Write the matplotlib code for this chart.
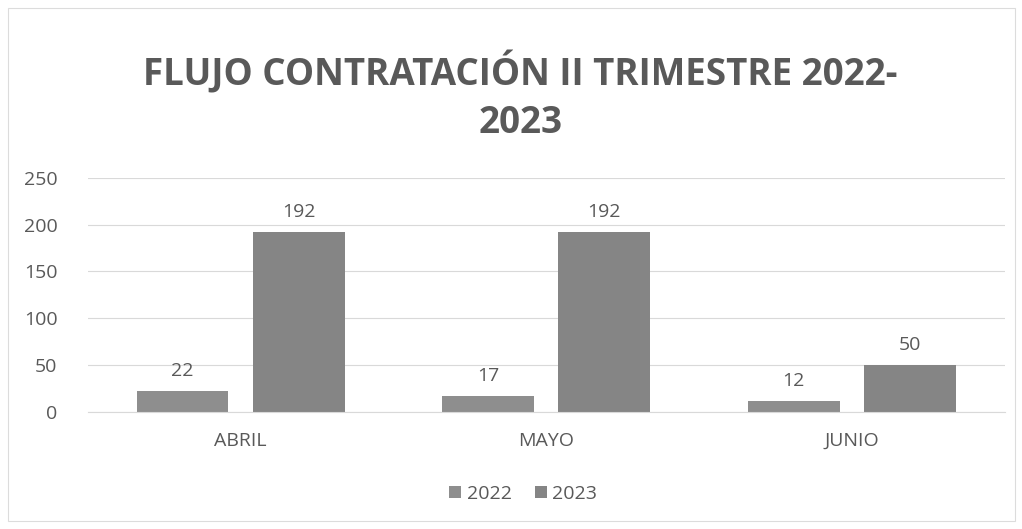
import numpy as np
from matplotlib import pyplot as plt
from matplotlib.patches import Rectangle

months = ["ABRIL", "MAYO", "JUNIO"]
values_2022 = [22, 17, 12]
values_2023 = [192, 192, 50]
y_ticks = [0, 50, 100, 150, 200, 250]

text_color = "#595959"
color_2022 = "#8e8e8e"
color_2023 = "#858585"

fig = plt.figure(figsize=(10.22, 5.29), dpi=100)
fig.patches.append(Rectangle((0.008, 0.015), 0.985, 0.97, transform=fig.transFigure,
                             fill=False, edgecolor="#dcdcdc", linewidth=0.8))

ax = fig.add_axes([0.086, 0.221, 0.897, 0.443])
x = np.arange(len(months))
width = 0.30
b1 = ax.bar(x - 0.19, values_2022, width, color=color_2022, label="2022")
b2 = ax.bar(x + 0.19, values_2023, width, color=color_2023, label="2023")

for bars in (b1, b2):
    ax.bar_label(bars, padding=8, fontsize=14, color=text_color, family="Open Sans")

ax.set_xlim(-0.5, 2.5)
ax.set_ylim(0, 250)
ax.set_yticks(y_ticks)
ax.set_xticks(x)
ax.set_xticklabels(months)
ax.tick_params(axis="both", length=0, labelsize=14, labelcolor=text_color)
ax.tick_params(axis="x", pad=14)
ax.tick_params(axis="y", pad=22)
for lab in ax.get_xticklabels() + ax.get_yticklabels():
    lab.set_family("Open Sans")
ax.grid(axis="y", color="#d9d9d9", linewidth=0.8)
ax.set_axisbelow(True)
for s in ["top", "right", "left"]:
    ax.spines[s].set_visible(False)
ax.spines["bottom"].set_color("#d9d9d9")

fig.text(0.509, 0.817, "FLUJO CONTRATACIÓN II TRIMESTRE 2022-\n2023", ha="center", va="center",
         fontsize=26.5, fontweight="bold", color=text_color, family="Open Sans", linespacing=1.33)

fig.legend(handles=[b1, b2], loc="center", bbox_to_anchor=(0.512, 0.066), ncol=2, frameon=False,
           prop={"family": "Open Sans", "size": 14}, labelcolor=text_color,
           handlelength=0.6, handleheight=0.6, handletextpad=0.3, columnspacing=1.2)

fig.savefig("out.png", dpi=100)
